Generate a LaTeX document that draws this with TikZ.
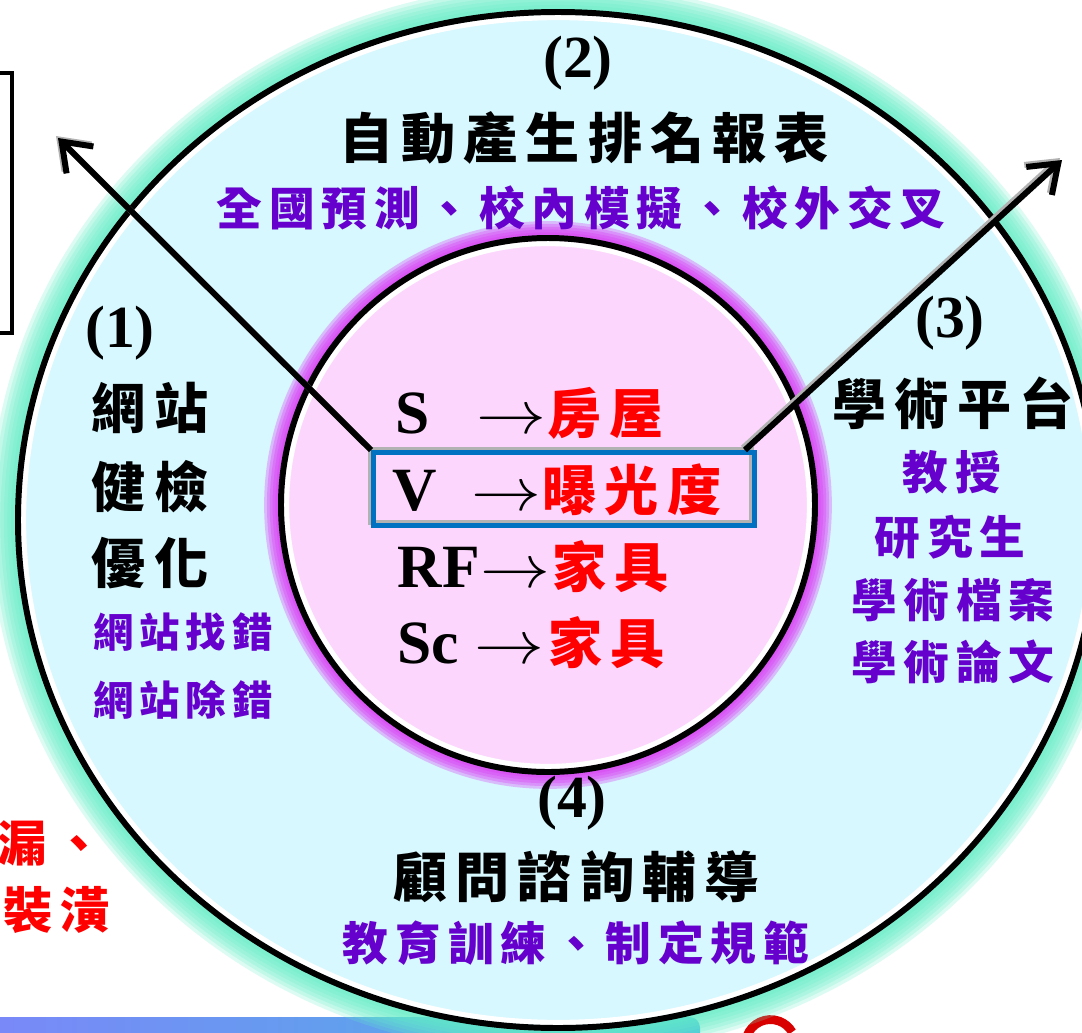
\documentclass[tikz,border=0pt]{standalone}
\usepackage{fontspec}
\setmainfont{Liberation Serif}
\newfontfamily\cjk[LetterSpace=15]{Noto Sans CJK TC}
\usepackage{tikz}
\usetikzlibrary{calc, arrows.meta}

\definecolor{ringcyan}{RGB}{214,248,254}
\definecolor{ringglow}{RGB}{100,238,200}
\definecolor{corepink}{RGB}{252,214,252}
\definecolor{coreglow}{RGB}{220,60,245}
\definecolor{notepurple}{RGB}{102,0,204}
\definecolor{boxblue}{RGB}{0,112,192}
\definecolor{barleft}{RGB}{122,136,248}
\definecolor{barright}{RGB}{74,181,227}

\begin{document}
\begin{tikzpicture}[
		every node/.style={inner sep=0pt},
		tag/.style={font=\bfseries\fontsize{17}{17}\selectfont},
		big/.style={font=\cjk\bfseries\fontsize{15.4}{15.4}\selectfont},
		note/.style={font=\cjk\bfseries\fontsize{13}{13}\selectfont, text=notepurple},
		small note/.style={font=\cjk\bfseries\fontsize{11.5}{11.5}\selectfont, text=notepurple},
		letter/.style={font=\bfseries\fontsize{17.5}{17.5}\selectfont, anchor=base west},
		target/.style={font=\cjk\bfseries\fontsize{15.4}{15.4}\selectfont, text=red, anchor=base west},
		warn/.style={font=\cjk\bfseries\fontsize{14}{14}\selectfont, text=red, anchor=east},
		pointer/.style={line width=1.7pt, -{Straight Barb[length=2.6mm,width=3.8mm]}}
	]
		\def\orx{5.40};
		\def\ory{5.08};
		\def\ir{2.67};
		\def\maps{\scalebox{1.15}[1]{$\rightarrow$}}
		
		\useasboundingbox (0,0) rectangle (10.82,-10.33);
		\fill[white] (0,0) rectangle (10.82,-10.33);
		
		%bottom bar and logo
		\shade[left color=barleft, right color=barright, rounded corners=3pt] (-0.1,-10.17) rectangle (7.0,-10.45);
		\draw[red!85!black, line width=2.5pt] (7.47,-10.36) arc (160:30:0.25);
		
		%box on the left
		\draw[line width=1.1pt] (-0.3,-0.73) rectangle (0.12,-3.33);
		
		%outer ring
		\coordinate (outer centre) at (5.58,-5.20);
		\foreach \w in {1,...,8}
			\draw[ringglow, opacity=0.22, line width=\w*2pt] (outer centre) ellipse [x radius=\orx, y radius=\ory];
		\fill[ringcyan] (outer centre) ellipse [x radius=\orx, y radius=\ory];
		\draw[white, line width=1.5pt] (outer centre) ellipse [x radius=\orx-0.055, y radius=\ory-0.055];
		\draw[line width=1.7pt] (outer centre) ellipse [x radius=\orx, y radius=\ory];
		
		%inner core
		\coordinate (inner centre) at (5.48,-5.05);
		\foreach \w in {1,...,6}
			\draw[coreglow, opacity=0.32, line width=\w*1.6pt] (inner centre) circle [radius=\ir];
		\fill[corepink] (inner centre) circle [radius=\ir];
		\draw[white, line width=1.5pt] (inner centre) circle [radius=\ir-0.055];
		\draw[line width=1.7pt] (inner centre) circle [radius=\ir];
		
		%highlighted row
		\node[draw=gray!60, line width=1.4pt, minimum width=3.81cm, minimum height=0.73cm] (v shadow) at (5.61,-4.86) {};
		\node[draw=boxblue, line width=1.4pt, minimum width=3.81cm, minimum height=0.73cm] (v box) at (5.64,-4.89) {};
		
		%pointers
		\coordinate (left tip) at (0.58,-1.38);
		\coordinate (right tip) at (10.62,-1.60);
		\draw[pointer, gray!60] ([shift={(-0.02,0.02)}]v box.north west) -- ([shift={(-0.02,0.02)}]left tip);
		\draw[pointer] (v box.north west) -- (left tip);
		\draw[pointer, gray!60] ([shift={(-0.14,0.02)}]v box.north east) -- ([shift={(-0.02,0.02)}]right tip);
		\draw[pointer] ([xshift=-0.12cm]v box.north east) -- (right tip);
		
		%core rows
		\node[letter] (s letter) at (3.95,-4.33) {S};
		\node[letter] (s arrow) at (4.76,-4.33) {\maps};
		\node[target] (s target) at (5.47,-4.33) {房屋};
		\node[letter] (v letter) at (3.92,-5.10) {V};
		\node[letter] (v arrow) at (4.71,-5.10) {\maps};
		\node[target] (v target) at (5.42,-5.10) {曝光度};
		\node[letter] (rf letter) at (3.97,-5.87) {RF};
		\node[letter] (rf arrow) at (4.80,-5.87) {\maps};
		\node[target] (rf target) at (5.52,-5.87) {家具};
		\node[letter] (sc letter) at (3.97,-6.63) {Sc};
		\node[letter] (sc arrow) at (4.74,-6.63) {\maps};
		\node[target] (sc target) at (5.48,-6.63) {家具};
		
		%(2) top
		\node[tag] (tag two) at (5.78,-0.63) {(2)};
		\node[big] (ranking) at (5.84,-1.38) {自動產生排名報表};
		\node[note] (ranking note) at (5.81,-2.08) {全國預測、校內模擬、校外交叉};
		
		%(1) left
		\node[tag] (tag one) at (1.20,-3.33) {(1)};
		\node[big] (site a) at (1.50,-4.08) {網站};
		\node[big] (site b) at (1.50,-4.87) {健檢};
		\node[big] (site c) at (1.50,-5.63) {優化};
		\node[small note] (site note a) at (1.83,-6.32) {網站找錯};
		\node[small note] (site note b) at (1.83,-7.00) {網站除錯};
		
		%(3) right
		\node[tag] (tag three) at (9.50,-3.23) {(3)};
		\node[big] (academy) at (9.53,-4.03) {學術平台};
		\node[note] (academy a) at (9.52,-4.72) {教授};
		\node[note] (academy b) at (9.50,-5.37) {研究生};
		\node[note] (academy c) at (9.53,-6.00) {學術檔案};
		\node[note] (academy d) at (9.53,-6.62) {學術論文};
		
		%(4) bottom
		\node[tag] (tag four) at (5.72,-8.03) {(4)};
		\node[big] (consult) at (5.76,-8.77) {顧問諮詢輔導};
		\node[note] (consult note) at (5.76,-9.43) {教育訓練、制定規範};
		
		%cut text on the left
		\node[warn] (leak note) at (1.04,-8.43) {漏、};
		\node[warn] (decor note) at (1.10,-9.10) {裝潢};
	\end{tikzpicture}
\end{document}
